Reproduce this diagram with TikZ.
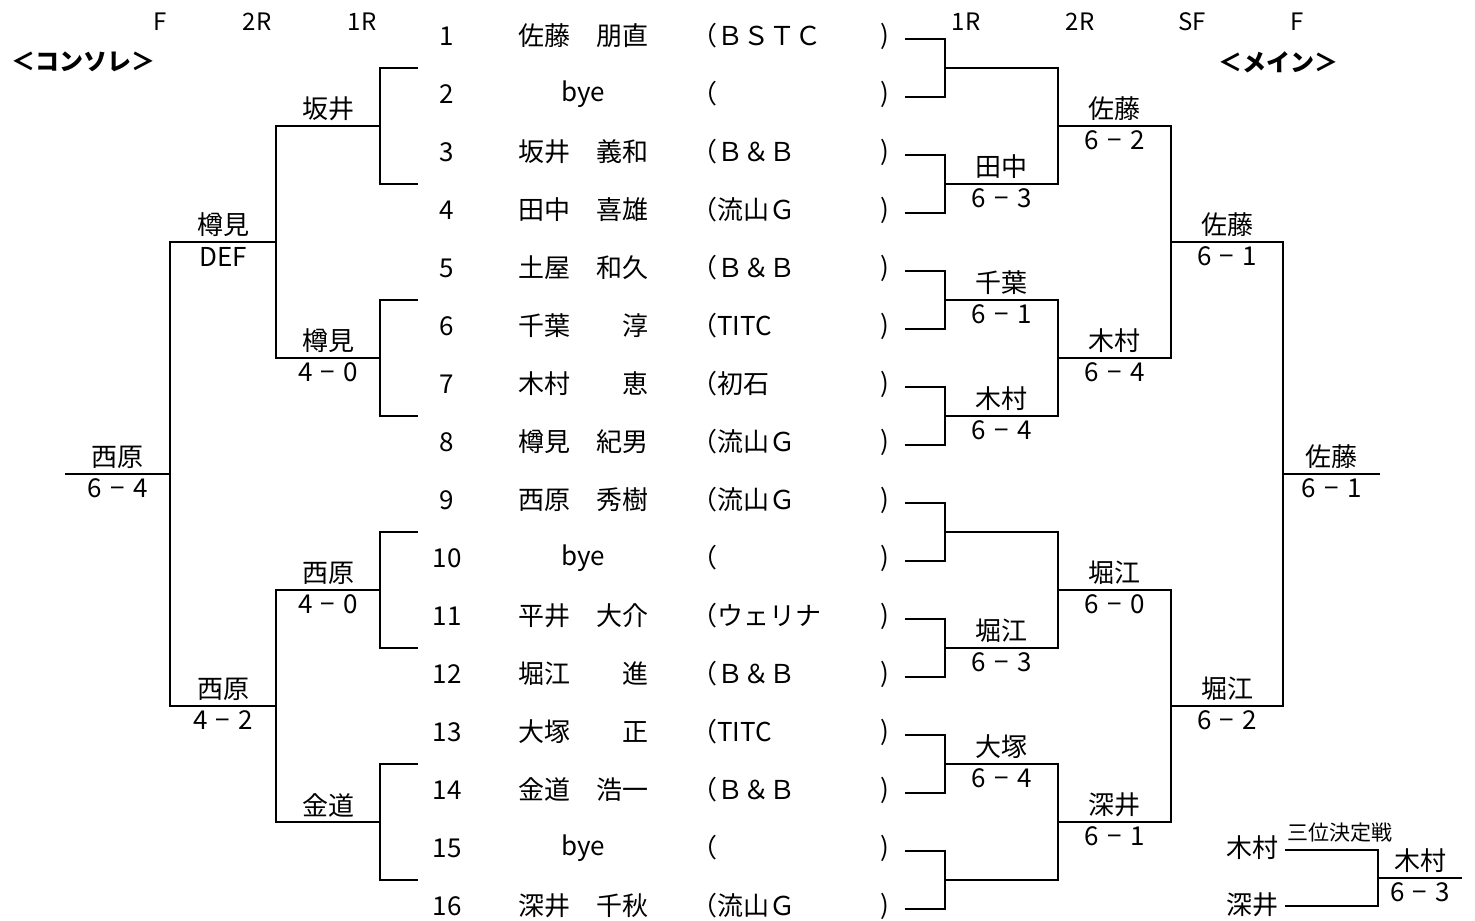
\documentclass[tikz,border=0pt]{standalone}
\usepackage{fontspec}
\setmainfont{Noto Sans CJK JP}
\usetikzlibrary{calc}

\tikzset{
  win/.style={above=1pt, inner sep=1pt},
  score/.style={below=1pt, inner sep=1pt},
  head/.style={font=\fontsize{12}{14}\selectfont},
}

% draw one bracket: top, bottom, x of the join, name of the winner point
\newcommand\joinrd[4]{%
  \draw (#1) -- (#1 -| #3) -- (#2 -| #3) -- (#2);
  \coordinate (#4) at ($(#1 -| #3)!.5!(#2 -| #3)$);}
% winner and score on the line from #2 to the x of #3
\newcommand\result[5]{%
  \node[win] (#1w) at ($(#2)!.5!(#2 -| #3)$) {#4};
  \node[score] (#1s) at ($(#2)!.5!(#2 -| #3)$) {#5};}
\newcommand\gamesc[2]{#1\hspace{.32em}−\hspace{.32em}#2}

\begin{document}
\begin{tikzpicture}[x=0.5pt, y=-0.5pt, line width=1pt,
  font=\fontsize{13}{15}\selectfont]
\useasboundingbox[fill=white] (0,0) rectangle (1475,920);

% columns
\coordinate (x0) at (418,0);
\coordinate (ya) at (380,0);
\coordinate (yb) at (276,0);
\coordinate (yc) at (170,0);
\coordinate (yd) at (65,0);
\coordinate (xa) at (945,0);
\coordinate (xb) at (1058,0);
\coordinate (xc) at (1171,0);
\coordinate (xd) at (1283,0);
\coordinate (xe) at (1380,0);

% headers
\node[head] (hlF) at (160,22) {F};
\node[head] (hl2) at (257,22) {2R};
\node[head] (hl1) at (362,22) {1R};
\node[head] (hr1) at (966,22) {1R};
\node[head] (hr2) at (1080,22) {2R};
\node[head] (hrS) at (1192,22) {SF};
\node[head] (hrF) at (1297,22) {F};
\node[font=\fontsize{12}{14}\selectfont\bfseries] (cons) at (83,62) {＜コンソレ＞};
\node[font=\fontsize{12}{14}\selectfont\bfseries] (main) at (1278,62) {＜メイン＞};

% draw list
\foreach \nm/\club [count=\i] in {佐藤　朋直/（ＢＳＴＣ,bye/（,坂井　義和/（Ｂ＆Ｂ,田中　喜雄/（流山Ｇ,土屋　和久/（Ｂ＆Ｂ,千葉　　淳/（TITC,木村　　恵/（初石,樽見　紀男/（流山Ｇ,西原　秀樹/（流山Ｇ,bye/（,平井　大介/（ウェリナ,堀江　　進/（Ｂ＆Ｂ,大塚　　正/（TITC,金道　浩一/（Ｂ＆Ｂ,bye/（,深井　千秋/（流山Ｇ} {
  \node (num\i) at (447,{36+(\i-1)*58}) {\i};
  \node (name\i) at (583,{36+(\i-1)*58}) {\nm};
  \node[anchor=west, inner sep=0pt] (club\i) at (690,{36+(\i-1)*58}) {\club};
  \node (rp\i) at (885,{36+(\i-1)*58}) {)};
  \coordinate (r\i) at (905,{39+(\i-1)*58});
}

% main draw
\joinrd{r1}{r2}{xa}{m1}
\joinrd{r3}{r4}{xa}{m2}
\joinrd{r5}{r6}{xa}{m3}
\joinrd{r7}{r8}{xa}{m4}
\joinrd{r9}{r10}{xa}{m5}
\joinrd{r11}{r12}{xa}{m6}
\joinrd{r13}{r14}{xa}{m7}
\joinrd{r15}{r16}{xa}{m8}
\result{m2}{m2}{xb}{田中}{\gamesc63}
\result{m3}{m3}{xb}{千葉}{\gamesc61}
\result{m4}{m4}{xb}{木村}{\gamesc64}
\result{m6}{m6}{xb}{堀江}{\gamesc63}
\result{m7}{m7}{xb}{大塚}{\gamesc64}

\joinrd{m1}{m2}{xb}{q1}
\joinrd{m3}{m4}{xb}{q2}
\joinrd{m5}{m6}{xb}{q3}
\joinrd{m7}{m8}{xb}{q4}
\result{q1}{q1}{xc}{佐藤}{\gamesc62}
\result{q2}{q2}{xc}{木村}{\gamesc64}
\result{q3}{q3}{xc}{堀江}{\gamesc60}
\result{q4}{q4}{xc}{深井}{\gamesc61}

\joinrd{q1}{q2}{xc}{s1}
\joinrd{q3}{q4}{xc}{s2}
\result{s1}{s1}{xd}{佐藤}{\gamesc61}
\result{s2}{s2}{xd}{堀江}{\gamesc62}

\joinrd{s1}{s2}{xd}{fm}
\draw (fm) -- (fm -| xe);
\result{fm}{fm}{xe}{佐藤}{\gamesc61}

% consolation
\foreach \k in {1,...,8} \coordinate (cl\k) at (m\k -| x0);
\joinrd{cl1}{cl2}{ya}{n1}
\joinrd{cl3}{cl4}{ya}{n2}
\joinrd{cl5}{cl6}{ya}{n3}
\joinrd{cl7}{cl8}{ya}{n4}
\result{n1}{n1}{yb}{坂井}{}
\result{n2}{n2}{yb}{樽見}{\gamesc40}
\result{n3}{n3}{yb}{西原}{\gamesc40}
\result{n4}{n4}{yb}{金道}{}

\joinrd{n1}{n2}{yb}{n5}
\joinrd{n3}{n4}{yb}{n6}
\result{n5}{n5}{yc}{樽見}{DEF}
\result{n6}{n6}{yc}{西原}{\gamesc42}

\joinrd{n5}{n6}{yc}{n7}
\draw (n7) -- (n7 -| yd);
\result{n7}{n7}{yd}{西原}{\gamesc64}

% third place
\node (tp1) at (1252,848) {木村};
\node (tp2) at (1252,905) {深井};
\coordinate (t1) at (1285,850);
\coordinate (t2) at (1285,906);
\coordinate (xt) at (1378,0);
\coordinate (xu) at (1462,0);
\joinrd{t1}{t2}{xt}{t3}
\draw (t3) -- (t3 -| xu);
\node[font=\fontsize{10.5}{12}\selectfont] (tpt) at (1340,833) {三位決定戦};
\result{t3}{t3}{xu}{木村}{\gamesc63}
\end{tikzpicture}
\end{document}
